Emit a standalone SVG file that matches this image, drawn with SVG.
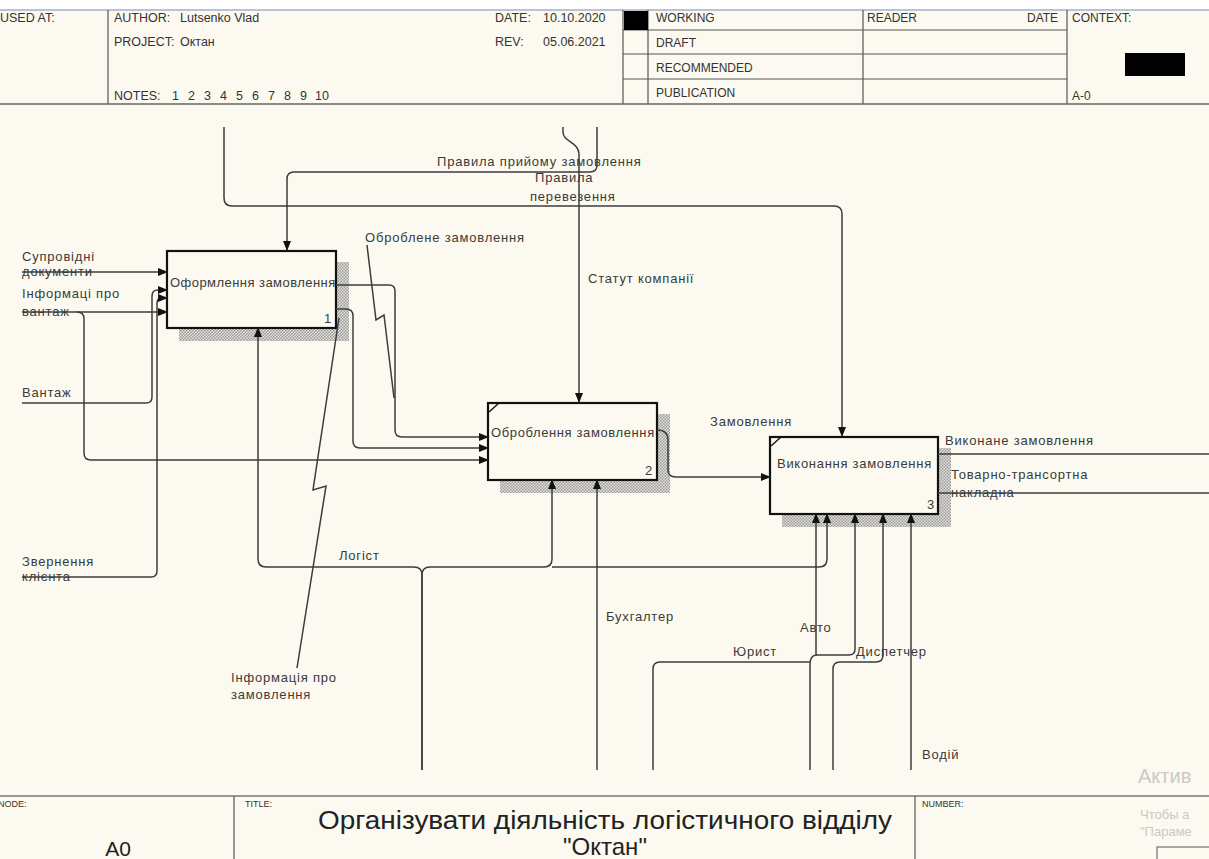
<svg xmlns="http://www.w3.org/2000/svg" width="1209" height="859" viewBox="0 0 1209 859">
<defs>
<style>
.t{font-family:"Liberation Sans",Arial,sans-serif;font-size:13px;letter-spacing:0.8px;fill:#3a3a3a}
.h{font-family:"Liberation Sans",Arial,sans-serif;font-size:12.5px;fill:#333}
.hr{font-family:"Liberation Sans",Arial,sans-serif;font-size:12px;fill:#333}
.f{font-family:"Liberation Sans",Arial,sans-serif;font-size:9px;fill:#333}
.ln{fill:none;stroke:#3c3c3c;stroke-width:1.5}
.lm{fill:none;stroke:#3c3c3c;stroke-width:1.5;marker-end:url(#ah)}
.bx{fill:#fcfaf0;stroke:#111;stroke-width:2.2}
.fr{stroke:#555;stroke-width:1.2;fill:none}
.sh{fill:url(#dots)}
.wm{font-family:"Liberation Sans",Arial,sans-serif;fill:#c9c9c9}
.ti{font-family:"Liberation Sans",Arial,sans-serif;font-size:26px;fill:#222}
</style>
<marker id="ah" markerWidth="10" markerHeight="8" refX="9" refY="4" orient="auto" markerUnits="userSpaceOnUse">
<path d="M0,0 L10,4 L0,8 Z" fill="#111"/>
</marker>
<pattern id="dots" width="3" height="3" patternUnits="userSpaceOnUse">
<rect width="3" height="3" fill="#e6e3da"/>
<rect width="1.5" height="1.5" fill="#9a9a9a"/>
<rect x="1.5" y="1.5" width="1.5" height="1.5" fill="#9a9a9a"/>
</pattern>
</defs>
<rect width="1209" height="859" fill="#fcfaf0"/>
<rect width="1209" height="10" fill="#ffffff"/>

<g id="header">
<line x1="0" y1="10" x2="1209" y2="10" stroke="#b9c3d3" stroke-width="2"/>
<line class="fr" x1="108" y1="10" x2="108" y2="104"/>
<line class="fr" x1="623" y1="10" x2="623" y2="104"/>
<line class="fr" x1="648" y1="10" x2="648" y2="104"/>
<line class="fr" x1="863" y1="10" x2="863" y2="104"/>
<line class="fr" x1="1067" y1="10" x2="1067" y2="104"/>
<line class="fr" x1="623" y1="30" x2="1067" y2="30"/>
<line class="fr" x1="623" y1="54" x2="1067" y2="54"/>
<line class="fr" x1="623" y1="79" x2="1067" y2="79"/>
<line x1="0" y1="104" x2="1209" y2="104" stroke="#666" stroke-width="1.6"/>
<rect x="624" y="11" width="24" height="19" fill="#000"/>
<rect x="1125" y="53" width="60" height="23" fill="#000"/>
<text class="h" x="0" y="22">USED AT:</text>
<text class="h" x="114" y="22">AUTHOR:</text>
<text class="h" x="180" y="22">Lutsenko Vlad</text>
<text class="h" x="114" y="46">PROJECT:</text>
<text class="h" x="180" y="46">Октан</text>
<text class="h" x="114" y="100">NOTES:</text>
<text class="h" x="172 188 204 220 236 252 268 284 300 315 322" y="100">12345678910</text>
<text class="h" x="495" y="22">DATE:</text>
<text class="h" x="543" y="22">10.10.2020</text>
<text class="h" x="495" y="46">REV:</text>
<text class="h" x="543" y="46">05.06.2021</text>
<text class="hr" x="656" y="22">WORKING</text>
<text class="hr" x="656" y="47">DRAFT</text>
<text class="hr" x="656" y="72">RECOMMENDED</text>
<text class="hr" x="656" y="97">PUBLICATION</text>
<text class="hr" x="867" y="22">READER</text>
<text class="hr" x="1027" y="22">DATE</text>
<text class="hr" x="1072" y="22">CONTEXT:</text>
<text class="hr" x="1072" y="100">A-0</text>
</g>

<g id="box1">
<rect class="sh" x="336" y="262" width="13" height="79"/>
<rect class="sh" x="179" y="328" width="170" height="13"/>
<rect class="bx" x="167" y="251" width="169" height="77"/>
<text class="t" x="170" y="287" textLength="166">Оформлення замовлення</text>
<text class="t" x="324" y="323">1</text>
</g>

<g id="box2">
<rect class="sh" x="657" y="414" width="13" height="79"/>
<rect class="sh" x="500" y="480" width="170" height="13"/>
<rect class="bx" x="488" y="403" width="169" height="77"/>
<line x1="489" y1="412" x2="499" y2="403" stroke="#111" stroke-width="1.4"/>
<text class="t" x="491" y="437" textLength="164">Оброблення замовлення</text>
<text class="t" x="645" y="475">2</text>
</g>

<g id="box3">
<rect class="sh" x="938" y="448" width="13" height="79"/>
<rect class="sh" x="782" y="514" width="169" height="13"/>
<rect class="bx" x="770" y="437" width="168" height="77"/>
<line x1="771" y1="446" x2="781" y2="437" stroke="#111" stroke-width="1.4"/>
<text class="t" x="777" y="468" textLength="155">Виконання замовлення</text>
<text class="t" x="927" y="509">3</text>
</g>

<g id="connectors">
<path class="lm" d="M224,127 V198 Q224,206 232,206 H834 Q842,206 842,214 V436"/>
<path class="lm" d="M563,127 V132 C563,142 579,142 579,154 V402"/>
<path class="lm" d="M597,127 V165 Q597,172 590,172 H294 Q287,172 287,179 V250"/>
<path class="lm" d="M22,272 H167"/>
<path class="lm" d="M22,312 H167"/>
<path class="lm" d="M77,312 Q84,312 84,319 V453 Q84,460 91,460 H488"/>
<path class="lm" d="M22,403 H146 Q152,403 152,397 V296 Q152,290 158,290 H167"/>
<path class="lm" d="M22,577 H151 Q157,577 157,571 V303 Q157,298 162,298 H167"/>
<path class="lm" d="M336,285 H389 Q395,285 395,291 V430 Q395,437 402,437 H488"/>
<path class="lm" d="M336,309 H346 Q353,309 353,316 V441 Q353,448 360,448 H488"/>
<path class="ln" d="M367,245 L376,320 L384,315 L394,398"/>
<path class="ln" d="M339,318 L313,490 L326,486 L297,668"/>
<path class="lm" d="M657,430 Q668,430 668,440 V470 Q668,477 676,477 H770"/>
<path class="ln" d="M938,454 H1209"/>
<path class="ln" d="M938,493 H1209"/>
<path class="lm" d="M422,770 V575 Q422,567 414,567 H266 Q258,567 258,559 V328"/>
<path class="lm" d="M422,770 V575 Q422,567 430,567 H544 Q552,567 552,559 V480"/>
<path class="lm" d="M552,567 H819 Q827,567 827,559 V514"/>
<path class="lm" d="M597,770 V480"/>
<path class="lm" d="M810,770 V664 Q810,656 816,655 V514"/>
<path class="lm" d="M816,655 H849 Q855,655 855,649 V514"/>
<path class="ln" d="M653,770 V669 Q653,662 660,662 H810"/>
<path class="lm" d="M833,770 V669 Q833,662 840,662 H876 Q883,662 883,655 V514"/>
<path class="lm" d="M911,770 V514"/>
</g>

<g id="labels">
<text class="t" x="437" y="166">Правила прийому замовлення</text>
<text class="t" x="535" y="182">Правила</text>
<text class="t" x="530" y="201">перевезення</text>
<text class="t" x="588" y="283">Статут компанії</text>
<text class="t" x="365" y="242">Оброблене замовлення</text>
<text class="t" x="22" y="261">Супровідні</text>
<text class="t" x="22" y="276">документи</text>
<text class="t" x="22" y="298">Інформаці про</text>
<text class="t" x="22" y="316">вантаж</text>
<text class="t" x="22" y="397">Вантаж</text>
<text class="t" x="22" y="566">Звернення</text>
<text class="t" x="22" y="581">клієнта</text>
<text class="t" x="339" y="560">Логіст</text>
<text class="t" x="231" y="682">Інформація про</text>
<text class="t" x="231" y="699">замовлення</text>
<text class="t" x="710" y="426">Замовлення</text>
<text class="t" x="945" y="445">Виконане замовлення</text>
<text class="t" x="951" y="479">Товарно-трансортна</text>
<text class="t" x="951" y="497">накладна</text>
<text class="t" x="606" y="621">Бухгалтер</text>
<text class="t" x="800" y="632">Авто</text>
<text class="t" x="733" y="656">Юрист</text>
<text class="t" x="856" y="656">Диспетчер</text>
<text class="t" x="922" y="759">Водій</text>
</g>

<g id="footer">
<line x1="0" y1="796" x2="1209" y2="796" stroke="#777" stroke-width="1.6"/>
<line class="fr" x1="234" y1="796" x2="234" y2="859"/>
<line class="fr" x1="915" y1="796" x2="915" y2="859"/>
<text class="f" x="-2" y="807">NODE:</text>
<text class="f" x="245" y="807">TITLE:</text>
<text class="f" x="922" y="807">NUMBER:</text>
<text x="118" y="856" text-anchor="middle" style="font-family:'Liberation Sans',Arial,sans-serif;font-size:21px;fill:#222">A0</text>
<text class="ti" x="318" y="829" textLength="574" lengthAdjust="spacingAndGlyphs">Організувати діяльність логістичного відділу</text>
<text class="ti" x="605" y="855" text-anchor="middle" style="font-size:24px">"Октан"</text>
<text class="wm" x="1138" y="783" style="font-size:20px">Актив</text>
<text class="wm" x="1140" y="819" style="font-size:13px">Чтобы а</text>
<text class="wm" x="1140" y="836" style="font-size:13px">"Параме</text>
<rect x="1157" y="847" width="60" height="14" fill="none" stroke="#555" stroke-width="1"/>
</g>
</svg>
